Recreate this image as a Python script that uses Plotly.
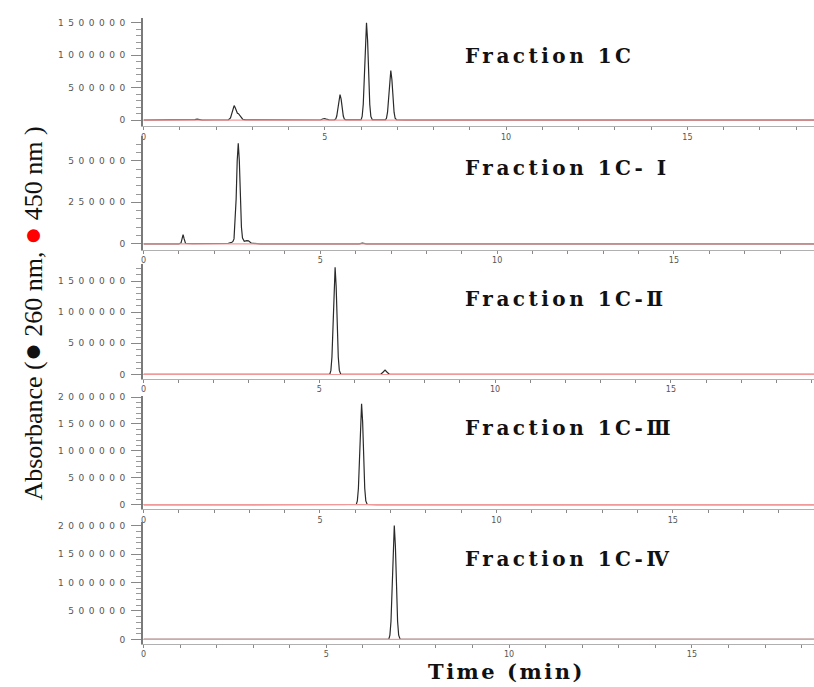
import plotly.graph_objects as go

# ---------------- data ----------------
# Fraction 1C (260 nm trace)
t_1c = [0, 1.0, 1.05, 1.12, 1.36, 1.42, 1.48, 1.54, 1.62, 2.0, 2.34, 2.40, 2.44, 2.47, 2.50, 2.53, 2.56,
        2.59, 2.62, 2.65, 2.69, 2.74, 2.82, 3.2, 3.35, 3.45, 3.6, 4.5, 4.88, 4.94, 4.99, 5.04, 5.12,
        5.26, 5.30, 5.33, 5.36, 5.39, 5.42, 5.45, 5.48, 5.51, 5.54, 5.58, 5.8, 6.00, 6.03, 6.06, 6.09,
        6.12, 6.15, 6.18, 6.21, 6.24, 6.27, 6.31, 6.67, 6.70, 6.73, 6.76, 6.79, 6.82, 6.85, 6.88, 6.91,
        6.94, 6.98, 7.2, 8.0, 9.9, 10.0, 10.1, 18.6]
a_1c = [0, 2000, 6000, 1000, 0, 7000, 15000, 7000, 1000, 2000, 2000, 35000, 110000, 185000, 225000, 190000, 130000,
        105000, 100000, 80000, 40000, 12000, 3000, 3000, 9000, 8000, 2000, 2000, 2000, 18000, 25000, 16000, 3000,
        2000, 16000, 63000, 175000, 325000, 395000, 325000, 175000, 63000, 16000, 3000, 5000, 4000, 57000, 240000, 660000,
        1230000, 1500000, 1230000, 660000, 240000, 57000, 5000, 3000, 29000, 122000, 337000, 627000, 765000, 627000, 337000, 122000,
        29000, 3000, 1000, 0, 0, 3000, 0, 0]

# Fraction 1C- I
t_1c1 = [0, 1.0, 1.06, 1.09, 1.12, 1.15, 1.19, 1.4, 1.6, 2.0, 2.4, 2.5, 2.53, 2.56, 2.59, 2.62, 2.65, 2.68,
         2.71, 2.74, 2.77, 2.80, 2.85, 2.92, 2.97, 3.05, 3.3, 6.1, 6.19, 6.3, 6.8, 6.85, 6.95, 19.0]
a_1c1 = [0, 0, 5000, 30000, 56000, 30000, 3000, 2000, 2000, 1000, 3000, 10000, 15000, 30000, 120000, 270000, 500000, 605000,
         500000, 270000, 100000, 35000, 15000, 20000, 18000, 4000, 0, 0, 5000, 0, 0, 4000, 0, 0]

# Fraction 1C-II
t_1c2 = [0, 1.0, 2.3, 2.4, 2.5, 4.0, 5.0, 5.30, 5.33, 5.36, 5.39, 5.42, 5.45, 5.48, 5.51, 5.54, 5.57, 5.61,
         5.8, 6.2, 6.75, 6.81, 6.87, 6.93, 6.99, 7.3, 19.1]
a_1c2 = [0, 1000, 2000, 8000, 2000, 1000, 1500, 3000, 65000, 280000, 760000, 1410000, 1720000, 1410000, 760000, 280000, 65000, 4000,
         1000, 1500, 3000, 35000, 70000, 35000, 3000, 0, 0]

# Fraction 1C-III
t_1c3 = [0, 3.0, 4.5, 5.3, 5.8, 6.03, 6.06, 6.09, 6.12, 6.15, 6.18, 6.21, 6.24, 6.27, 6.30, 6.34, 6.6, 7.5, 19.1]
a_1c3 = [0, 1000, 1500, 1500, 2000, 3000, 70000, 300000, 830000, 1540000, 1876000, 1540000, 830000, 300000, 70000, 3000, 1000, 0, 0]

# Fraction 1C-IV
t_1c4 = [0, 3.5, 4.8, 5.5, 6.2, 6.71, 6.74, 6.77, 6.80, 6.83, 6.86, 6.89, 6.92, 6.95, 6.98, 7.02, 7.3, 8.0, 18.4]
a_1c4 = [0, 1500, 1500, 2000, 2000, 3000, 75000, 320000, 880000, 1650000, 2007000, 1650000, 880000, 320000, 75000, 3000, 1000, 0, 0]

# 450 nm trace (flat baseline in every panel)
t_450 = [0, 19.1]
a_450 = [0, 0]

panel_names = ["Fraction 1C", "Fraction 1C- I", "Fraction 1C-Ⅱ", "Fraction 1C-Ⅲ", "Fraction 1C-Ⅳ"]
times = [t_1c, t_1c1, t_1c2, t_1c3, t_1c4]
absorb = [a_1c, a_1c1, a_1c2, a_1c3, a_1c4]

ytick_vals = [
    [0, 500000, 1000000, 1500000],
    [0, 250000, 500000],
    [0, 500000, 1000000, 1500000],
    [0, 500000, 1000000, 1500000, 2000000],
    [0, 500000, 1000000, 1500000, 2000000],
]
ytick_text = [[str(v) for v in vals] for vals in ytick_vals]
ytick_minor = [100000, 50000, 100000, 100000, 100000]

xtick_vals = [0, 5, 10, 15]
xtick_text = ["0", "5", "10", "15"]

# ---------------- layout geometry (pixels in an 814 x 687 page) ----------------
W, H = 814, 687
panel_px = [(14, 123), (133, 247.5), (262, 377.5), (395, 509), (521.7, 644.3)]
y_ranges = [[-92000, 1577000], [-35000, 649000], [-69000, 1772000], [-87000, 2018000], [-75000, 2070000]]
x_ranges = [[0, 18.49], [0, 18.96], [0, 19.07], [0, 19.0], [0, 18.34]]
label_y_px = [52, 165, 297, 427, 559]
x_left = 141 / W

fig = go.Figure()
layout = dict(
    width=W, height=H,
    margin=dict(l=0, r=0, t=0, b=0),
    paper_bgcolor="white", plot_bgcolor="white",
    showlegend=False,
    annotations=[],
)

def spaced(s, sp):
    return f'<span style="letter-spacing:{sp}px">{s}</span>'

for i in range(5):
    n = "" if i == 0 else str(i + 1)
    xa, ya = "x" + n, "y" + n
    fig.add_trace(go.Scatter(x=times[i], y=absorb[i], mode="lines",
                             line=dict(color="#2a2a2a", width=1.2),
                             xaxis=xa, yaxis=ya, hoverinfo="skip"))
    fig.add_trace(go.Scatter(x=t_450, y=a_450, mode="lines",
                             line=dict(color="#f29a9a", width=1.1),
                             xaxis=xa, yaxis=ya, hoverinfo="skip"))
    top, bot = panel_px[i]
    layout["xaxis" + n] = dict(
        domain=[x_left, 1], anchor=ya, range=x_ranges[i],
        showgrid=False, zeroline=False,
        showline=True, linecolor="#b0b0b0", linewidth=1,
        tickmode="array", tickvals=xtick_vals, ticktext=xtick_text,
        ticks="outside", ticklen=3, tickcolor="#888", tickwidth=1,
        tickfont=dict(family="DejaVu Sans", size=8, color="#555"),
        minor=dict(dtick=1, tick0=0, ticks="outside", ticklen=3, tickcolor="#888"),
        fixedrange=True,
    )
    layout["yaxis" + n] = dict(
        domain=[1 - bot / H, 1 - top / H], anchor=xa, range=y_ranges[i],
        showgrid=False, zeroline=False,
        showline=True, linecolor="#7a7a7a", linewidth=2,
        tickmode="array", tickvals=ytick_vals[i],
        ticktext=[spaced(t, 4.5) for t in ytick_text[i]],
        ticks="outside", ticklen=10, tickcolor="#888", tickwidth=1,
        tickfont=dict(family="DejaVu Sans", size=9, color="#555"),
        minor=dict(dtick=ytick_minor[i], tick0=0, ticks="outside", ticklen=5, tickcolor="#999"),
        fixedrange=True,
    )
    layout["annotations"].append(dict(
        xref="paper", yref="paper", x=462 / W, y=1 - label_y_px[i] / H,
        xanchor="left", yanchor="middle", showarrow=False,
        text="<b>" + spaced(panel_names[i], 3.5) + "</b>",
        font=dict(family="DejaVu Serif", size=20, color="#111"),
    ))

# axis titles
layout["annotations"].append(dict(
    xref="paper", yref="paper", x=29 / W, y=1 - 312 / H,
    xanchor="center", yanchor="middle", showarrow=False, textangle=-90,
    text='Absorbance (<span style="font-size:30px">●</span> 260 nm, '
         '<span style="font-size:30px;color:#ff0000">●</span> 450 nm )',
    font=dict(family="Liberation Serif", size=26, color="#111"),
))
layout["annotations"].append(dict(
    xref="paper", yref="paper", x=505 / W, y=1 - 672 / H,
    xanchor="center", yanchor="middle", showarrow=False,
    text="<b>" + spaced("Time (min)", 2.5) + "</b>",
    font=dict(family="DejaVu Serif", size=21, color="#111"),
))

fig.update_layout(**layout)
fig.write_html("out.html")
